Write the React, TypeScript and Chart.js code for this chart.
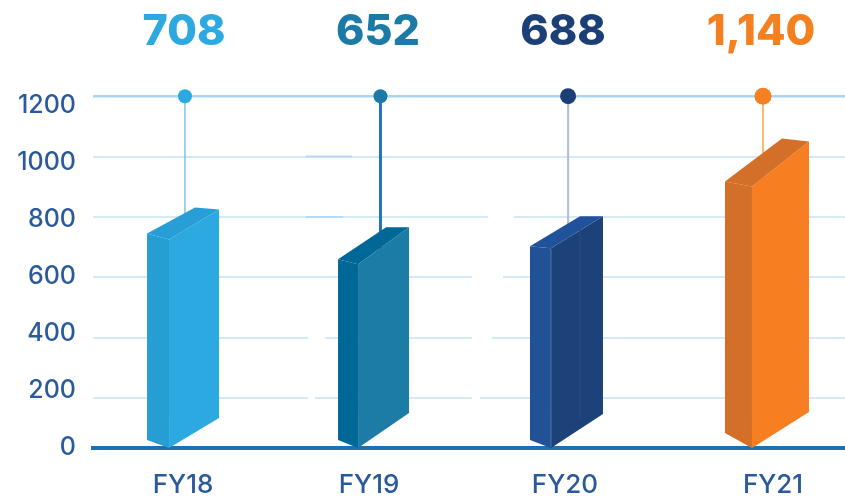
import React, { useEffect, useRef } from "react";
import { Chart, registerables } from "chart.js";

Chart.register(...registerables);

const categories = ["FY18", "FY19", "FY20", "FY21"];
const valueLabels = [708, 652, 688, 1140];
// Front-corner height of each drawn box, read against the gridlines
const barTops = [725, 643, 696, 901];
const yTicks = [0, 200, 400, 600, 800, 1000, 1200];
const stemTop = 1200;
const yFloor = 34.4;

// Horizontal places on the x axis, in units of one category slot
const categoryPos = [0, 0.946, 1.942, 3];
const barPos = [-0.071, 0.89, 1.871, 2.893];
const stemPos = [0.01, 1.004, 1.958, 2.949];
const labelPos = [0.005, 0.9915, 1.932, 2.939];

const valueColors = ["#2CA9E1", "#1C7BA6", "#1C3F78", "#F58020"];
const frontColors = ["#2CA9E1", "#1D7CA6", "#1C4279", "#F77F21"];
const sideColors = ["#269ED4", "#006896", "#205295", "#D36F28"];
const topColors = ["#279ED6", "#006896", "#20529B", "#D36F28"];
const stemColors = ["#7CC4EC", "#1E74BD", "#B3B9DA", "#FDBB6B"];
const stemWidths = [1.5, 3, 2, 2];
const dotRadii = [7, 7, 8, 8.5];

const shapes = [
  { lx: -22, lt: -6, lb: -8, rx: 50, rt: -30, rb: -30, bx: 26, bt: -32 },
  { lx: -20, lt: -5, lb: -8, rx: 51, rt: -37, rb: -35, bx: 28, bt: -37 },
  { lx: -21, lt: -2, lb: -8, rx: 52, rt: -32, rb: -34, bx: 29, bt: -32 },
  { lx: -27, lt: -5, lb: -15, rx: 57, rt: -45, rb: -36, bx: 30, bt: -48 },
];

const gridBreaks = [
  { v: 800, from: 1.551, to: 1.683 },
  { v: 600, from: 1.469, to: 1.627 },
  { v: 400, from: 0.636, to: 0.722 },
  { v: 400, from: 1.469, to: 1.571 },
  { v: 200, from: 0.636, to: 0.671 },
  { v: 200, from: 1.469, to: 1.51 },
];
const gridDarker = [
  { v: 1000, from: 0.625, to: 0.859 },
  { v: 800, from: 0.625, to: 0.814 },
];

const AXIS_TEXT = "#2B5A9B";
const FONT = "Inter, 'Open Sans', sans-serif";

function poly(ctx: CanvasRenderingContext2D, pts: number[][], color: string) {
  ctx.fillStyle = color;
  ctx.beginPath();
  pts.forEach(([x, y], i) => (i ? ctx.lineTo(x, y) : ctx.moveTo(x, y)));
  ctx.closePath();
  ctx.fill();
}

const boxesPlugin = {
  id: "boxes",
  beforeDatasetsDraw(chart: any) {
    const { ctx, scales } = chart;
    ctx.save();
    ctx.lineWidth = 3;
    ctx.strokeStyle = "#FFFFFF";
    gridBreaks.forEach((g) => {
      const y = scales.y.getPixelForValue(g.v);
      ctx.beginPath();
      ctx.moveTo(scales.x.getPixelForValue(g.from), y);
      ctx.lineTo(scales.x.getPixelForValue(g.to), y);
      ctx.stroke();
    });
    ctx.lineWidth = 2;
    ctx.strokeStyle = "#B5DAF3";
    gridDarker.forEach((g) => {
      const y = scales.y.getPixelForValue(g.v);
      ctx.beginPath();
      ctx.moveTo(scales.x.getPixelForValue(g.from), y);
      ctx.lineTo(scales.x.getPixelForValue(g.to), y);
      ctx.stroke();
    });
    ctx.restore();
  },
  afterDatasetsDraw(chart: any) {
    const { ctx, scales } = chart;
    const bars = chart.getDatasetMeta(0).data;
    ctx.save();
    bars.forEach((bar: any, i: number) => {
      const s = shapes[i];
      const { x, y, base } = bar;
      poly(ctx, [[x + s.lx, y + s.lt], [x, y], [x, base], [x + s.lx, base + s.lb]], sideColors[i]);
      poly(ctx, [[x, y], [x + s.rx, y + s.rt], [x + s.rx, base + s.rb], [x, base]], frontColors[i]);
      poly(ctx, [[x + s.lx, y + s.lt], [x + s.bx, y + s.bt], [x + s.rx, y + s.rt], [x, y]], topColors[i]);
      if (i === 2) {
        ctx.strokeStyle = "#2A4C82";
        ctx.lineWidth = 1;
        ctx.beginPath();
        ctx.moveTo(x + s.bx, y + s.bt + 12);
        ctx.lineTo(x + s.bx, base + s.rb + 5);
        ctx.stroke();
        ctx.strokeStyle = "#4F74A8";
        ctx.beginPath();
        ctx.moveTo(x, y + 1);
        ctx.lineTo(x, base - 1);
        ctx.stroke();
      }
    });
    ctx.textAlign = "center";
    ctx.textBaseline = "middle";
    ctx.font = `800 43px ${FONT}`;
    valueLabels.forEach((v, i) => {
      ctx.fillStyle = valueColors[i];
      ctx.fillText(v.toLocaleString("en-US"), scales.x.getPixelForValue(labelPos[i]), 32);
    });
    ctx.restore();
  },
};

export default function App() {
  const ref = useRef<HTMLCanvasElement>(null);
  useEffect(() => {
    const chart = new Chart(ref.current!, {
      type: "bar",
      data: {
        datasets: [
          {
            type: "bar",
            label: "Bar",
            data: barTops.map((y, i) => ({ x: barPos[i], y })),
            backgroundColor: "rgba(0,0,0,0)",
            barThickness: 1,
            base: yFloor,
          },
          ...categories.map((c, i) => ({
            type: "line",
            label: c,
            data: [
              { x: stemPos[i], y: barTops[i] },
              { x: stemPos[i], y: stemTop },
            ],
            borderColor: stemColors[i],
            borderWidth: stemWidths[i],
            pointRadius: [0, dotRadii[i]],
            pointBackgroundColor: valueColors[i],
            pointBorderWidth: 0,
            clip: false,
          })),
        ] as any,
      },
      options: {
        animation: false,
        responsive: false,
        layout: { autoPadding: false, padding: { top: 96.2, left: 0, right: 0, bottom: 0 } },
        plugins: { legend: { display: false }, tooltip: { enabled: false } },
        scales: {
          x: {
            type: "linear",
            offset: false,
            min: -0.4576,
            max: 3.366,
            afterBuildTicks: (s: any) => {
              s.ticks = categoryPos.map((value) => ({ value }));
            },
            afterFit: (s: any) => {
              s.height = 50;
            },
            grid: { display: false },
            border: { display: true, color: "#1F6FB5", width: 4 },
            ticks: {
              autoSkip: false,
              maxRotation: 0,
              padding: 14,
              color: AXIS_TEXT,
              font: { family: FONT, size: 26, weight: "500" },
              callback: (_v: any, i: number) => categories[i],
            },
          },
          y: {
            type: "linear",
            position: "left",
            min: yFloor,
            max: stemTop,
            afterBuildTicks: (s: any) => {
              s.ticks = yTicks.filter((v) => v > 0).map((value) => ({ value }));
            },
            afterFit: (s: any) => {
              s.width = 0;
            },
            border: { display: false },
            ticks: { display: false },
            grid: {
              drawTicks: false,
              color: (c: any) => (c.tick?.value === stemTop ? "#A9D6F3" : "#D6E9F9"),
              lineWidth: (c: any) => (c.tick?.value === stemTop ? 2.5 : 2),
            },
          },
          yLabels: {
            type: "linear",
            axis: "y",
            position: "left",
            min: -2.5,
            max: 1231.6,
            afterBuildTicks: (s: any) => {
              s.ticks = yTicks.map((value) => ({ value }));
            },
            afterFit: (s: any) => {
              s.width = 93;
            },
            border: { display: false },
            grid: { display: false, drawTicks: false },
            ticks: {
              autoSkip: false,
              padding: 17,
              color: AXIS_TEXT,
              font: { family: FONT, size: 25, weight: "500" },
              callback: (v: any) => String(v),
            },
          },
        },
      } as any,
      plugins: [boxesPlugin],
    });
    return () => chart.destroy();
  }, []);
  return (
    <div style={{ position: "absolute", left: 0, top: 0, width: 845, height: 498 }}>
      <canvas ref={ref} width={845} height={498} style={{ display: "block" }} />
    </div>
  );
}
